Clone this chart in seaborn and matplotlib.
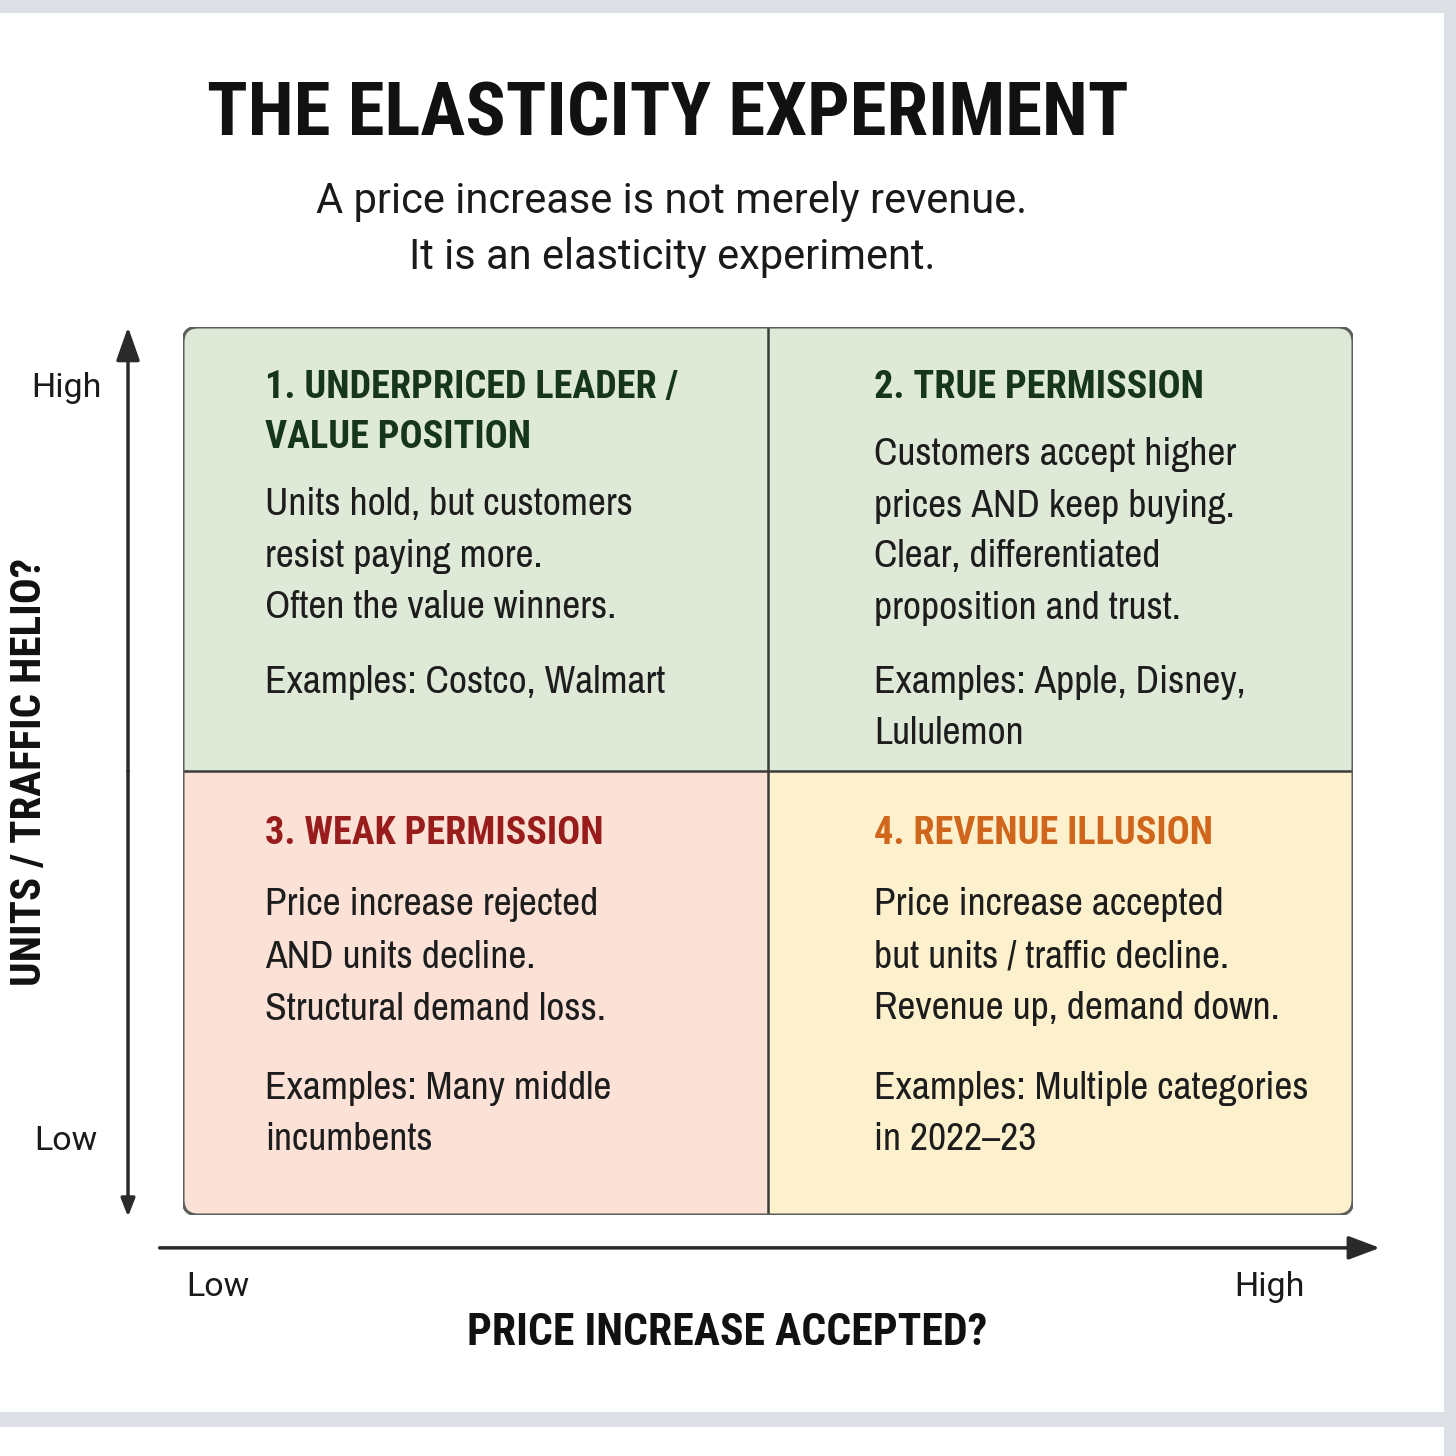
import matplotlib
matplotlib.use("Agg")
import matplotlib.pyplot as plt
import matplotlib.font_manager as fm
from matplotlib.colors import ListedColormap
from matplotlib.patches import FancyBboxPatch, Rectangle
import numpy as np
import seaborn as sns

title = "THE ELASTICITY EXPERIMENT"
subtitle = ["A price increase is not merely revenue.", "It is an elasticity experiment."]
x_label = "PRICE INCREASE ACCEPTED?"
y_label = "UNITS / TRAFFIC HELIO?"
levels = ["Low", "High"]

# quadrants: col 0 = price increase not accepted, row 0 = units held (top)
quad_col = [0, 1, 0, 1]
quad_row = [0, 0, 1, 1]
quad_fill = ["#dfe9d7", "#dfe9d7", "#fbe1d6", "#fdf0cc"]
quad_head_color = ["#163619", "#163619", "#981c1c", "#d0651c"]
quad_heads = [
    ["1. UNDERPRICED LEADER /", "VALUE POSITION"],
    ["2. TRUE PERMISSION"],
    ["3. WEAK PERMISSION"],
    ["4. REVENUE ILLUSION"],
]
quad_body = [
    ["Units hold, but customers", "resist paying more.", "Often the value winners."],
    ["Customers accept higher", "prices AND keep buying.", "Clear, differentiated", "proposition and trust."],
    ["Price increase rejected", "AND units decline.", "Structural demand loss."],
    ["Price increase accepted", "but units / traffic decline.", "Revenue up, demand down."],
]
quad_examples = [
    ["Examples: Costco, Walmart"],
    ["Examples: Apple, Disney,", "Lululemon"],
    ["Examples: Many middle", "incumbents"],
    ["Examples: Multiple categories", "in 2022\u201323"],
]

sns.set_theme(style="white")
names = {f.name for f in fm.fontManager.ttflist}
body_font = next((n for n in ["Archivo Narrow", "Roboto Condensed"] if n in names), "DejaVu Sans")
bold_font = next((n for n in ["Roboto Condensed", "Archivo Narrow"] if n in names), "DejaVu Sans")
NARROW = dict(family=[body_font, "DejaVu Sans"])
BOLD = dict(family=[bold_font, "DejaVu Sans"], fontweight="bold")
REG = dict(family=["Roboto", "DejaVu Sans"])
plt.rcParams["font.family"] = ["Roboto", "DejaVu Sans"]

fig = plt.figure(figsize=(14.56, 14.56), dpi=100, facecolor="white")

# grey page edges around the card
for rect in [(0, 1 - 13 / 1456, 1, 13 / 1456), (1444 / 1456, 0, 12 / 1456, 1),
             (0, 1 - 1427 / 1456, 1, 15 / 1456)]:
    fig.patches.append(Rectangle(rect[:2], rect[2], rect[3], transform=fig.transFigure,
                                 facecolor="#dde0e4", edgecolor="none", zorder=0))

ax = fig.add_axes([183 / 1456, 1 - 1215 / 1456, 1170 / 1456, 888 / 1456])

grid = np.zeros((2, 2))
for i, (c, r) in enumerate(zip(quad_col, quad_row)):
    grid[r, c] = i
sns.heatmap(grid, cmap=ListedColormap(quad_fill), vmin=-0.5, vmax=3.5, cbar=False,
            xticklabels=False, yticklabels=False, linewidths=0, ax=ax)
for s in ax.spines.values():
    s.set_visible(False)

box = FancyBboxPatch((0, 0), 1, 1, boxstyle="round,pad=0,rounding_size=0.013",
                     mutation_aspect=1170 / 888, transform=ax.transAxes,
                     facecolor="none", edgecolor="#5b605b", lw=2.2, zorder=5)
ax.add_patch(box)
ax.collections[0].set_clip_path(box)
ax.axvline(1, color="#3a3d3a", lw=1.8, zorder=4)
ax.axhline(1, color="#3a3d3a", lw=1.8, zorder=4)

# quadrant text (vertical spacing in pixels from the top of each cell)
pad_x = [82 / 585, 106 / 585]
cell_h = 444
head_gap = [67, 71]
body_step = [51, 52]
ex_gap = [75, 79]
for i in range(4):
    c, r = quad_col[i], quad_row[i]
    x0 = c + pad_x[c]
    y = 61 + 2 * r
    for line in quad_heads[i]:
        ax.text(x0, r + y / cell_h, line, color=quad_head_color[i], fontsize=27.5,
                va="center", ha="left", **BOLD)
        y += 50
    y += head_gap[r] - 50
    for line in quad_body[i]:
        ax.text(x0, r + y / cell_h, line, color="#1d1d1d", fontsize=28.5,
                va="center", ha="left", **NARROW)
        y += body_step[r]
    y += ex_gap[r] - body_step[r]
    for line in quad_examples[i]:
        ax.text(x0, r + y / cell_h, line, color="#1d1d1d", fontsize=28.5,
                va="center", ha="left", **NARROW)
        y += body_step[r]

# axis arrows
ax.annotate("", xy=(-0.047, 1.0), xytext=(-0.047, 0.5), xycoords="axes fraction",
            arrowprops=dict(arrowstyle="-|>,head_length=1.7,head_width=0.6", lw=2.5,
                            color="#2a2a2a", shrinkA=0, shrinkB=0))
ax.annotate("", xy=(-0.047, -0.002), xytext=(-0.047, 0.5), xycoords="axes fraction",
            arrowprops=dict(arrowstyle="-|>,head_length=0.9,head_width=0.35", lw=2.5,
                            color="#2a2a2a", shrinkA=0, shrinkB=0))
ax.annotate("", xy=(1.023, -0.037), xytext=(-0.02, -0.037), xycoords="axes fraction",
            arrowprops=dict(arrowstyle="-|>,head_length=1.6,head_width=0.6", lw=2.5,
                            color="#2a2a2a", shrinkA=0, shrinkB=0))

for x, y, lab in [(-0.1, 0.931, levels[1]), (-0.1, 0.083, levels[0]),
                  (0.03, -0.081, levels[0]), (0.929, -0.081, levels[1])]:
    ax.text(x, y, lab, transform=ax.transAxes, ha="center", va="center",
            fontsize=24.5, color="#1a1a1a", **REG)

ax.text(0.465, -0.133, x_label, transform=ax.transAxes, ha="center", va="center",
        fontsize=31.5, color="#111111", **BOLD)
ax.text(-0.131, 0.499, y_label, transform=ax.transAxes, ha="center", va="center",
        rotation=90, fontsize=31, color="#111111", **BOLD)

fig.text(668 / 1456, 1 - 135 / 1456, title, ha="center", va="baseline", fontsize=54,
         color="#111111", **BOLD)
for k, line in enumerate(subtitle):
    fig.text(672 / 1456, 1 - (213 + 56 * k) / 1456, line, ha="center", va="baseline",
             fontsize=30, color="#1a1a1a", **REG)

fig.savefig("out.png", dpi=100, facecolor=fig.get_facecolor())
